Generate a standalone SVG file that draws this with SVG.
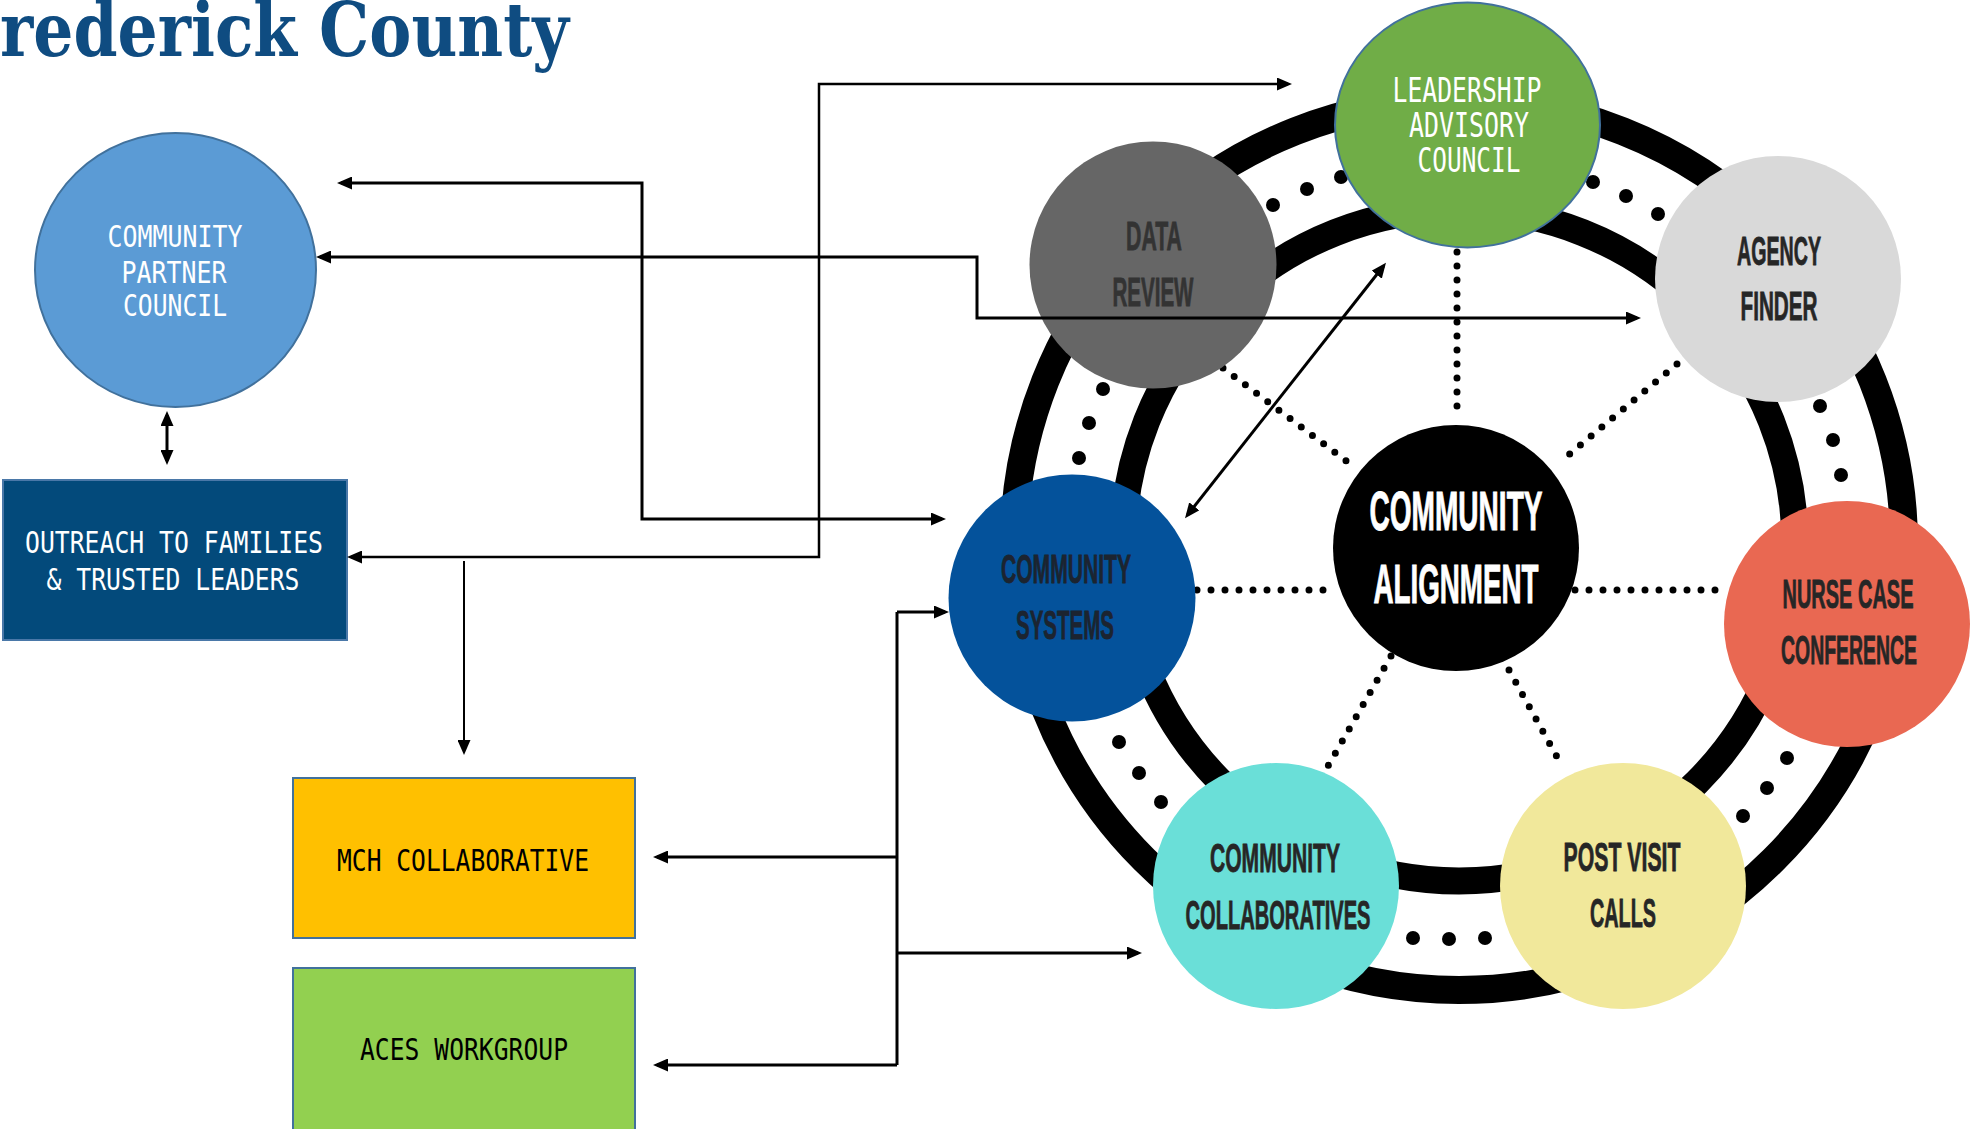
<svg xmlns="http://www.w3.org/2000/svg" width="1972" height="1129" viewBox="0 0 1972 1129">
<defs>
<marker id="ah" markerUnits="userSpaceOnUse" markerWidth="15" markerHeight="13" refX="11" refY="6.5" orient="auto-start-reverse">
<path d="M0,0 L15,6.5 L0,13 z" fill="#000"/>
</marker>
<style>
.mono{font-family:"DejaVu Sans Mono","Liberation Mono",monospace;font-size:30px;text-anchor:middle}
.cond{font-family:"Liberation Sans","Roboto",sans-serif;font-weight:bold;font-size:40px;text-anchor:middle;fill:#262626;stroke:#262626;stroke-width:0.8}
.conn{fill:none;stroke:#000;stroke-width:3}
.ring{fill:none;stroke:#000}
.spoke{fill:none;stroke:#000;stroke-width:7;stroke-linecap:round;stroke-dasharray:0 14}
.dot{fill:#000}
</style>
</defs>
<rect width="1972" height="1129" fill="#fff"/>
<text x="0" y="56" font-family="DejaVu Serif, Liberation Serif, serif" font-weight="bold" font-size="74" fill="#0f4c81" textLength="569" lengthAdjust="spacingAndGlyphs">rederick County</text>

<g id="wheel">
<circle class="ring" cx="1459" cy="545" r="445" stroke-width="28"/>
<circle class="ring" cx="1459" cy="545" r="336" stroke-width="27"/>
<g id="ring-dots">
<circle class="dot" cx="1273" cy="205" r="7"/><circle class="dot" cx="1307" cy="189" r="7"/><circle class="dot" cx="1341" cy="177" r="7"/>
<circle class="dot" cx="1593" cy="182" r="7"/><circle class="dot" cx="1626" cy="196" r="7"/><circle class="dot" cx="1658" cy="214" r="7"/>
<circle class="dot" cx="1103" cy="389" r="7"/><circle class="dot" cx="1089" cy="423" r="7"/><circle class="dot" cx="1079" cy="458" r="7"/>
<circle class="dot" cx="1820" cy="406" r="7"/><circle class="dot" cx="1833" cy="440" r="7"/><circle class="dot" cx="1841" cy="475" r="7"/>
<circle class="dot" cx="1119" cy="742" r="7"/><circle class="dot" cx="1139" cy="773" r="7"/><circle class="dot" cx="1161" cy="802" r="7"/>
<circle class="dot" cx="1787" cy="758" r="7"/><circle class="dot" cx="1767" cy="788" r="7"/><circle class="dot" cx="1743" cy="816" r="7"/>
<circle class="dot" cx="1413" cy="938" r="7"/><circle class="dot" cx="1449" cy="939" r="7"/><circle class="dot" cx="1485" cy="938" r="7"/>
</g>
<g id="spokes">
<path class="spoke" d="M1457 252 V420"/>
<path class="spoke" d="M1223 368 L1357 469"/>
<path class="spoke" d="M1677 364 L1560 462"/>
<path class="spoke" d="M1197 590 H1337"/>
<path class="spoke" d="M1575 590 H1729"/>
<path class="spoke" d="M1391 656 L1328 766"/>
<path class="spoke" d="M1509 670 L1562 766"/>
</g>
</g>

<g id="data-review">
<circle cx="1153" cy="265" r="123.5" fill="#666666"/>
<text class="cond" x="1154" y="250" textLength="56" lengthAdjust="spacingAndGlyphs" style="fill:#333;stroke:#333">DATA</text>
<text class="cond" x="1153" y="306" textLength="81" lengthAdjust="spacingAndGlyphs" style="fill:#333;stroke:#333">REVIEW</text>
</g>
<g id="agency-finder">
<circle cx="1778" cy="279" r="123" fill="#d9d9d9"/>
<text class="cond" x="1779" y="265" textLength="84" lengthAdjust="spacingAndGlyphs">AGENCY</text>
<text class="cond" x="1779" y="320" textLength="77" lengthAdjust="spacingAndGlyphs">FINDER</text>
</g>
<g id="community-systems">
<circle cx="1072" cy="598" r="123.5" fill="#04529b"/>
<text class="cond" x="1066" y="583" textLength="130" lengthAdjust="spacingAndGlyphs" style="fill:#1c2430;stroke:#1c2430">COMMUNITY</text>
<text class="cond" x="1065" y="639" textLength="98" lengthAdjust="spacingAndGlyphs" style="fill:#1c2430;stroke:#1c2430">SYSTEMS</text>
</g>
<g id="nurse-case-conference">
<circle cx="1847" cy="624" r="123" fill="#e96852"/>
<text class="cond" x="1848" y="608" textLength="131" lengthAdjust="spacingAndGlyphs">NURSE CASE</text>
<text class="cond" x="1849" y="664" textLength="136" lengthAdjust="spacingAndGlyphs">CONFERENCE</text>
</g>
<g id="community-collaboratives">
<circle cx="1276" cy="886" r="123" fill="#6adfd8"/>
<text class="cond" x="1275" y="872" textLength="130" lengthAdjust="spacingAndGlyphs">COMMUNITY</text>
<text class="cond" x="1278" y="929" textLength="185" lengthAdjust="spacingAndGlyphs">COLLABORATIVES</text>
</g>
<g id="post-visit-calls">
<circle cx="1623" cy="886" r="123" fill="#f1e89b"/>
<text class="cond" x="1622" y="871" textLength="117" lengthAdjust="spacingAndGlyphs">POST VISIT</text>
<text class="cond" x="1623" y="927" textLength="66" lengthAdjust="spacingAndGlyphs">CALLS</text>
</g>
<g id="community-alignment">
<circle cx="1456" cy="548" r="123" fill="#000"/>
<text class="cond" x="1456" y="530" font-size="56" textLength="173" lengthAdjust="spacingAndGlyphs" style="font-size:56px;fill:#fff;stroke:#fff;stroke-width:1">COMMUNITY</text>
<text class="cond" x="1456" y="603" textLength="165" lengthAdjust="spacingAndGlyphs" style="font-size:56px;fill:#fff;stroke:#fff;stroke-width:1">ALIGNMENT</text>
</g>
<g id="leadership-advisory-council">
<ellipse cx="1467.5" cy="125" rx="132.5" ry="122.5" fill="#70ad47" stroke="#41719c" stroke-width="2"/>
<text class="mono" x="1467" y="102" fill="#fff" style="font-size:33px" textLength="149" lengthAdjust="spacingAndGlyphs">LEADERSHIP</text>
<text class="mono" x="1469" y="137" fill="#fff" style="font-size:33px" textLength="120" lengthAdjust="spacingAndGlyphs">ADVISORY</text>
<text class="mono" x="1469" y="172" fill="#fff" style="font-size:33px" textLength="103" lengthAdjust="spacingAndGlyphs">COUNCIL</text>
</g>

<g id="community-partner-council">
<ellipse cx="175.5" cy="270" rx="140.5" ry="137" fill="#5b9bd5" stroke="#41719c" stroke-width="2"/>
<text class="mono" x="175" y="247" fill="#fff" textLength="135" lengthAdjust="spacingAndGlyphs">COMMUNITY</text>
<text class="mono" x="174" y="283" fill="#fff" textLength="105" lengthAdjust="spacingAndGlyphs">PARTNER</text>
<text class="mono" x="175" y="316" fill="#fff" textLength="104" lengthAdjust="spacingAndGlyphs">COUNCIL</text>
</g>
<g id="outreach">
<rect x="3" y="480" width="344" height="160" fill="#034a7b" stroke="#4a78a8" stroke-width="2"/>
<text class="mono" x="174" y="553" fill="#fff" textLength="298" lengthAdjust="spacingAndGlyphs">OUTREACH TO FAMILIES</text>
<text class="mono" x="173" y="590" fill="#fff" textLength="253" lengthAdjust="spacingAndGlyphs">&amp; TRUSTED LEADERS</text>
</g>
<g id="mch-collaborative">
<rect x="293" y="778" width="342" height="160" fill="#ffc000" stroke="#41719c" stroke-width="2"/>
<text class="mono" x="463" y="871" fill="#000" textLength="252" lengthAdjust="spacingAndGlyphs">MCH COLLABORATIVE</text>
</g>
<g id="aces-workgroup">
<rect x="293" y="968" width="342" height="175" fill="#92d050" stroke="#41719c" stroke-width="2"/>
<text class="mono" x="464" y="1060" fill="#000" textLength="208" lengthAdjust="spacingAndGlyphs">ACES WORKGROUP</text>
</g>

<g id="connectors">
<path class="conn" d="M341 183 H642 V519 H942" marker-start="url(#ah)" marker-end="url(#ah)"/>
<path class="conn" d="M320 257 H977 V318 H1637" marker-start="url(#ah)" marker-end="url(#ah)"/>
<path class="conn" d="M351 557 H819 V84 H1288" style="stroke-width:2.5" marker-start="url(#ah)" marker-end="url(#ah)"/>
<path class="conn" d="M464 561 V751" style="stroke-width:2" marker-end="url(#ah)"/>
<path class="conn" d="M167 415 V461" marker-start="url(#ah)" marker-end="url(#ah)"/>
<path class="conn" d="M1383.5 266 L1187.5 515" marker-start="url(#ah)" marker-end="url(#ah)"/>
<path class="conn" d="M897 612 V1065"/>
<path class="conn" d="M897 612 H945" marker-end="url(#ah)"/>
<path class="conn" d="M897 953 H1138" marker-end="url(#ah)"/>
<path class="conn" d="M897 857 H657" marker-end="url(#ah)"/>
<path class="conn" d="M897 1065 H657" marker-end="url(#ah)"/>
</g>
</svg>
